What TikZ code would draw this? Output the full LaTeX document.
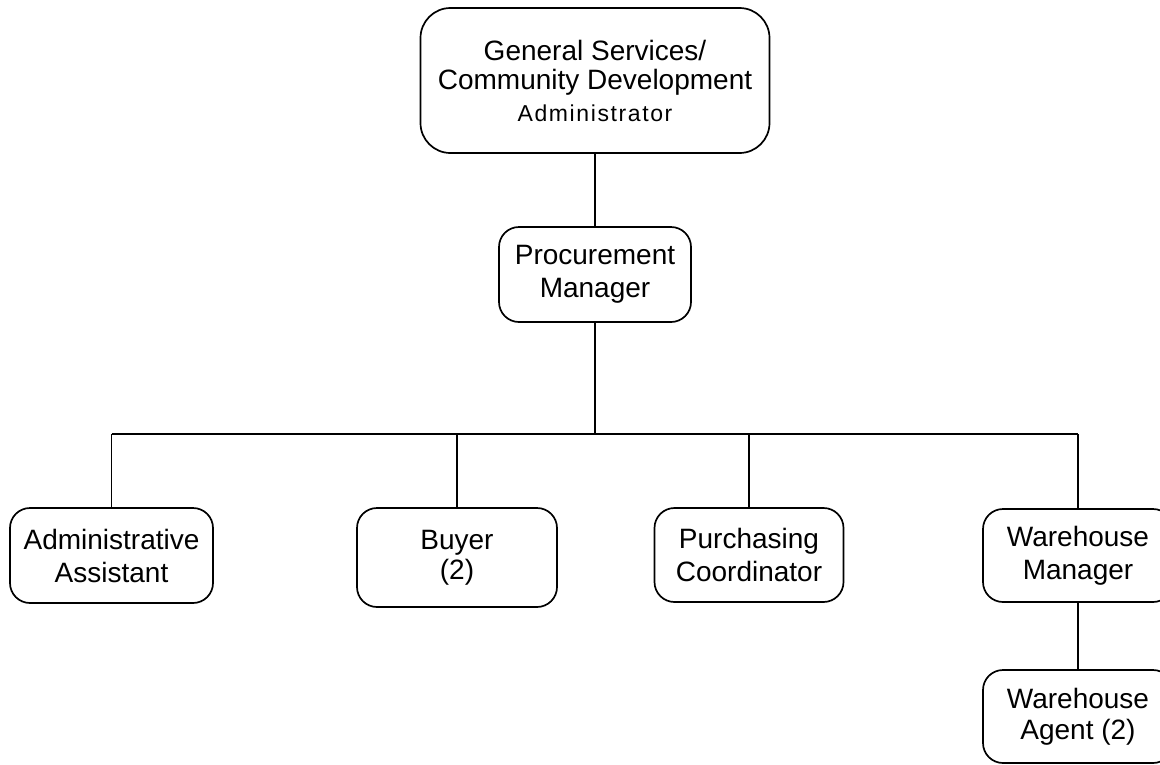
\documentclass[tikz,border=0pt]{standalone}
\usepackage{fontspec}
\setmainfont{Liberation Sans}
\newfontfamily\spacedfont[LetterSpace=7]{Liberation Sans}
\begin{document}
\begin{tikzpicture}[x=1pt,y=-1pt,
  box/.style={draw, line width=1.7pt, rounded corners=20pt, align=center,
    inner sep=0pt, font=\fontsize{28}{33}\selectfont},
  link/.style={line width=1.7pt}]
\useasboundingbox (0,0) rectangle (1160,764);
% boxes
\node[box, rounded corners=30pt, minimum width=349pt, minimum height=145pt,
  font=\fontsize{28}{29}\selectfont] (admin) at (595,80.5)
  {General Services/\\Community Development\\[3pt]{\spacedfont\fontsize{23}{26}\selectfont Administrator}};
\node[box, minimum width=192pt, minimum height=95pt] (proc) at (595,274.5) {Procurement\\Manager};
\node[box, minimum width=203pt, minimum height=95pt] (aa) at (111.5,555.5) {Administrative\\Assistant};
\node[box, minimum width=200pt, minimum height=99pt] (buyer) at (457,557.5) {Buyer\\[-3pt](2)\\[-27pt]\mbox{}};
\node[box, minimum width=189pt, minimum height=94pt] (pc) at (749,555) {Purchasing\\Coordinator};
\node[box, minimum width=190pt, minimum height=93pt] (wm) at (1078,555.5) {Warehouse\\Manager};
\node[box, minimum width=190pt, minimum height=93pt] (wa) at (1078,716.5) {Warehouse\\[-2pt]Agent (2)};
\coordinate (bus) at (595,434);
% connectors
\draw[link] (admin.south) -- (proc.north);
\draw[link] (proc.south) -- (bus);
\draw[link] (aa.north |- bus) -- (wm.north |- bus);
\draw[link] (aa.north |- bus) -- (aa.north);
\draw[link] (buyer.north |- bus) -- (buyer.north);
\draw[link] (pc.north |- bus) -- (pc.north);
\draw[link] (wm.north |- bus) -- (wm.north);
\draw[link] (wm.south) -- (wa.north);
\end{tikzpicture}
\end{document}
